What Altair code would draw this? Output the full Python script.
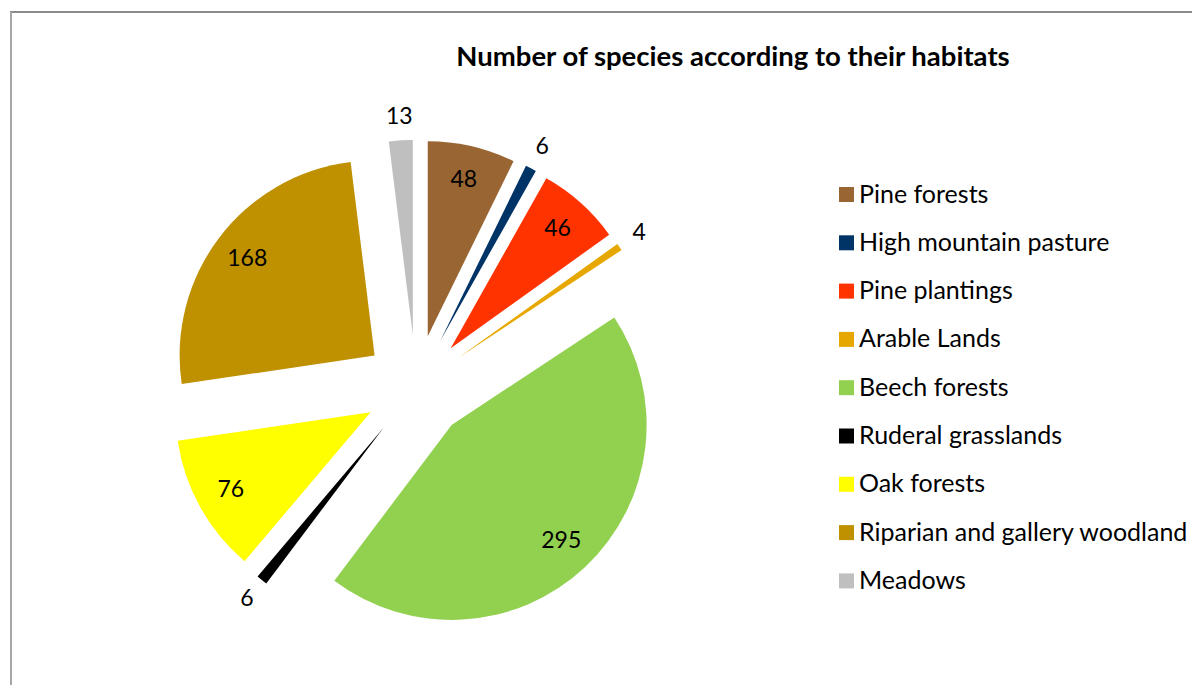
import altair as alt
import pandas as pd

# ---- data ----
categories = ["Pine forests", "High mountain pasture", "Pine plantings", "Arable Lands",
              "Beech forests", "Ruderal grasslands", "Oak forests",
              "Riparian and gallery woodland", "Meadows"]
counts = [48, 6, 46, 4, 295, 6, 76, 168, 13]
colors = ["#996633", "#003366", "#FF3300", "#E6A800", "#92D050",
          "#000000", "#FFFF00", "#BF9000", "#BFBFBF"]
title_text = "Number of species according to their habitats"

# ---- layout parameters (pixels in plot area) ----
W, H = 1184, 677
CX, CY = 408, 379      # unexploded pie centre
R = 195                # pie radius
EXPLODE = 52           # radial explosion distance
R_IN, R_OUT = 160, 219 # label radii (inside / outside)
FONT = "Lato"

df = pd.DataFrame({"category": categories, "count": counts, "idx": list(range(len(categories)))})

base = alt.Chart(df).transform_window(
    cum="sum(count)", sort=[alt.SortField("idx")], frame=[None, 0]
).transform_joinaggregate(
    total="sum(count)"
).transform_calculate(
    a0="2*PI*(datum.cum - datum.count)/datum.total",
    a1="2*PI*datum.cum/datum.total",
).transform_calculate(
    mid="(datum.a0 + datum.a1)/2"
).transform_calculate(
    cx=f"{CX} + {EXPLODE}*sin(datum.mid)",
    cy=f"{CY} - {EXPLODE}*cos(datum.mid)",
    lr=f"datum.count/datum.total < 0.03 ? {R_OUT} : {R_IN}",
).transform_calculate(
    lx="datum.cx + datum.lr*sin(datum.mid)",
    ly="datum.cy - datum.lr*cos(datum.mid)",
)

arcs = base.mark_arc(outerRadius=R, stroke=None).encode(
    x=alt.X("cx:Q", scale=None, axis=None),
    y=alt.Y("cy:Q", scale=None, axis=None),
    theta=alt.Theta("a0:Q", scale=None, stack=None),
    theta2="a1:Q",
    color=alt.Color(
        "category:N",
        scale=alt.Scale(domain=categories, range=colors),
        sort=categories,
        legend=alt.Legend(
            title=None, orient="none", legendX=826, legendY=174,
            symbolType="square", symbolSize=225, symbolStrokeWidth=0,
            labelFont=FONT, labelFontSize=25, labelColor="#000000",
            labelLimit=400, labelOffset=0, rowPadding=22.3, padding=0,
        ),
    ),
)

labels = base.mark_text(font=FONT, fontSize=23, color="#000000", baseline="middle", align="center").encode(
    x=alt.X("lx:Q", scale=None, axis=None),
    y=alt.Y("ly:Q", scale=None, axis=None),
    text="count:Q",
)

title = alt.Chart(pd.DataFrame({"t": [title_text]})).mark_text(
    font=FONT, fontSize=27.5, fontWeight="bold", color="#000000", baseline="middle", align="center"
).encode(x=alt.value(725), y=alt.value(50), text="t:N")

frame_df = pd.DataFrame({"a": [0]})
top_line = alt.Chart(frame_df).mark_rule(color="#8C8C8C", strokeWidth=2).encode(
    x=alt.value(2), x2=alt.value(W), y=alt.value(4))
left_line = alt.Chart(frame_df).mark_rule(color="#A6A6A6", strokeWidth=2).encode(
    x=alt.value(3), y=alt.value(4), y2=alt.value(H))

chart = alt.layer(top_line, left_line, arcs, labels, title).properties(
    width=W, height=H, padding=0, autosize=alt.AutoSizeParams(type="none")
).configure_view(stroke=None)

chart.save("out.html", embed_options={"renderer": "svg", "actions": False})
